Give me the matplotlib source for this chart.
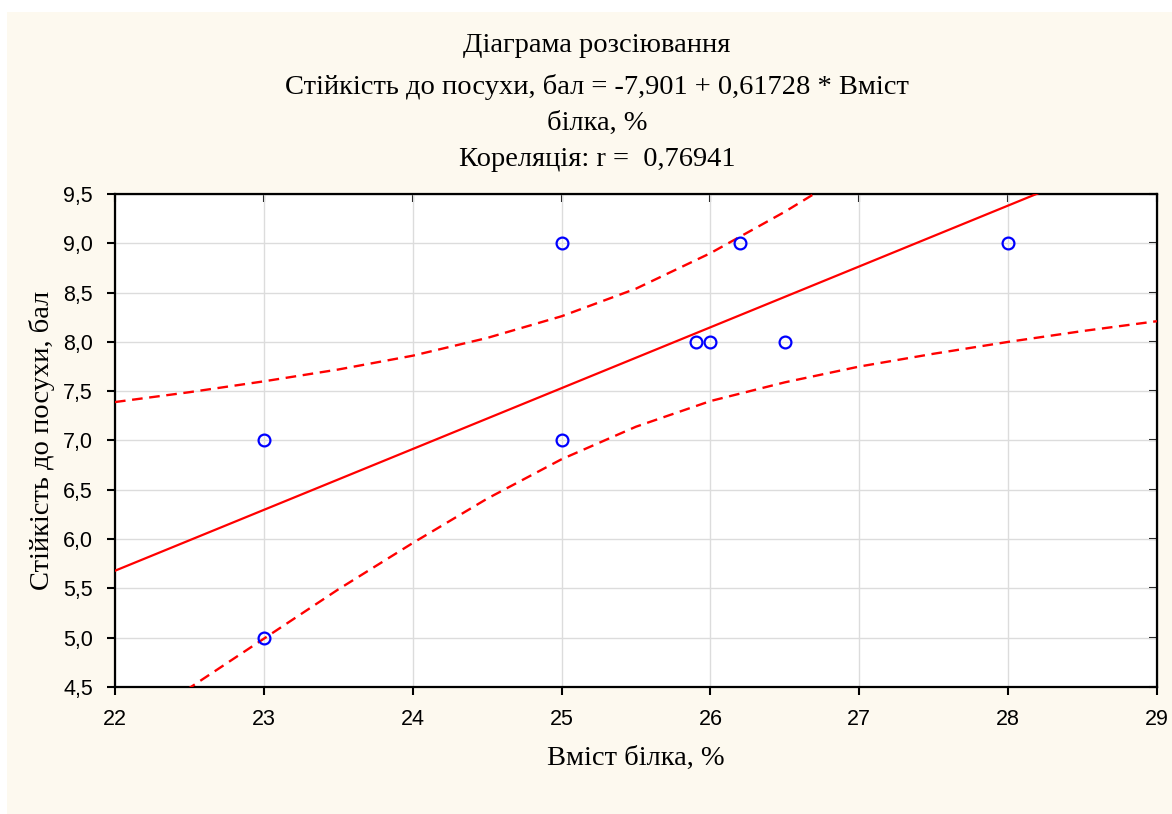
import numpy as np
import matplotlib.pyplot as plt
from matplotlib.patches import Rectangle
from matplotlib.ticker import FuncFormatter

plt.rcParams['font.family'] = 'Liberation Sans'

# Дані: вміст білка (%) та стійкість до посухи (бал)
protein = [23, 23, 25, 25, 25.9, 26, 26.2, 26.5, 28]
drought = [7, 5, 9, 7, 8, 8, 9, 8, 9]

# Коефіцієнти регресії (з заголовка)
intercept = -7.901
slope = 0.61728

# Межі 95% довірчого інтервалу
band_x = [22, 22.5, 23, 23.5, 24, 24.5, 25, 25.5, 26, 26.5, 27, 27.5, 28, 28.5, 29]
band_upper = [7.39, 7.49, 7.60, 7.72, 7.86, 8.04, 8.26, 8.54, 8.90, 9.32, 9.78,
              10.26, 10.77, 11.28, 11.79]
band_lower = [3.97, 4.49, 4.99, 5.49, 5.96, 6.41, 6.81, 7.14, 7.40, 7.59, 7.75,
              7.88, 8.00, 8.11, 8.21]

x_ticks = [22, 23, 24, 25, 26, 27, 28, 29]
y_ticks = [4.5, 5.0, 5.5, 6.0, 6.5, 7.0, 7.5, 8.0, 8.5, 9.0, 9.5]

W, H = 1172, 814
fig = plt.figure(figsize=(W / 100, H / 100), dpi=100)
fig.patch.set_facecolor('white')
# кремова панель
bg = Rectangle((7 / W, 0), 1 - 7 / W, 1 - 12 / H, transform=fig.transFigure,
               facecolor='#fdf9ef', edgecolor='none', zorder=-10)
fig.add_artist(bg)

ax = fig.add_axes([115 / W, 1 - 687 / H, (1157 - 115) / W, (687 - 194) / H])
ax.set_zorder(5)
ax.set_facecolor('white')

xs = np.array([22, 29])
ax.plot(xs, intercept + slope * xs, color='red', lw=1.6, zorder=3)
ax.plot(band_x, band_upper, color='red', lw=1.7, ls=(0, (4.5, 2.8)), zorder=3)
ax.plot(band_x, band_lower, color='red', lw=1.7, ls=(0, (4.5, 2.8)), zorder=3)
ax.plot(protein, drought, 'o', mfc='none', mec='blue', mew=1.6, ms=8.5, zorder=4,
        clip_on=False)

ax.set_xlim(22, 29)
ax.set_ylim(4.5, 9.5)
ax.set_xticks(x_ticks)
ax.set_yticks(y_ticks)
ax.yaxis.set_major_formatter(FuncFormatter(lambda v, p: f'{v:.1f}'.replace('.', ',')))
ax.grid(True, color='#dcdcdc', lw=1)
ax.set_axisbelow(True)

for s in ax.spines.values():
    s.set_linewidth(1.6)
    s.set_color('black')

ax.tick_params(which='major', direction='out', length=6, width=1.5,
               labelsize=15.5)
ax.tick_params(axis='x', pad=10)
ax.tick_params(axis='y', pad=10)
sec_x = ax.secondary_xaxis('top')
sec_x.set_xticks(x_ticks)
sec_x.tick_params(direction='in', length=6, width=1.5, labeltop=False)
sec_y = ax.secondary_yaxis('right')
sec_y.set_yticks(y_ticks)
sec_y.tick_params(direction='in', length=6, width=1.5, labelright=False)

serif = 'Liberation Serif'
title_lines = ['Діаграма розсіювання',
               'Стійкість до посухи, бал = -7,901 + 0,61728 * Вміст',
               'білка, %',
               'Кореляція: r =  0,76941']
title_y = [45, 87, 123, 160]
for t, yy in zip(title_lines, title_y):
    fig.text(597 / W, 1 - yy / H, t, ha='center', va='center',
             family=serif, fontsize=20.5)

fig.text(636 / W, 1 - 758 / H, 'Вміст білка, %', ha='center', va='center',
         family=serif, fontsize=20.5)
fig.text(42 / W, 1 - 440 / H, 'Стійкість до посухи, бал', ha='center',
         va='center', rotation=90, family=serif, fontsize=20.5)

fig.savefig('out.png', dpi=100, facecolor=fig.get_facecolor())
